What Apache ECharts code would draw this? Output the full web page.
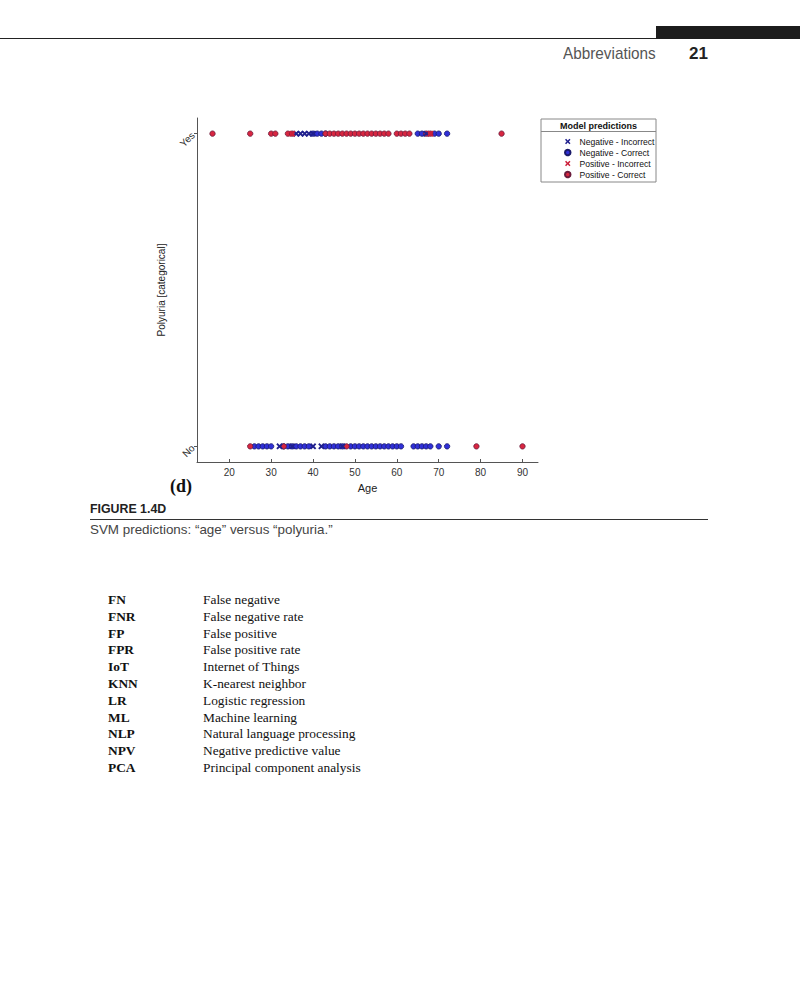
<!DOCTYPE html>
<html><head><meta charset="utf-8">
<script src="https://cdn.jsdelivr.net/npm/echarts@6/dist/echarts.min.js"></script>
<style>
body{margin:0;width:800px;height:987px;background:#fff;position:relative;overflow:hidden;font-family:'Liberation Sans',Arial,sans-serif;}
#chart{position:absolute;left:0;top:0;width:800px;height:520px;}
.abs{position:absolute;white-space:nowrap;}
#thin{position:absolute;left:0;top:38px;width:656px;height:1px;background:#222;}
#bar{position:absolute;left:656px;top:26px;width:144px;height:13px;background:#1c1c1c;}
#hdr{left:563px;top:44px;font-family:'Liberation Sans',Arial;font-size:17px;color:#555;transform:scaleX(0.9);transform-origin:left top;}
#pg{left:689px;top:44px;font-family:'Liberation Sans',Arial;font-weight:bold;font-size:17px;color:#222;}
#dlab{left:170px;top:476px;font-family:'Liberation Serif','Times New Roman',serif;font-weight:bold;font-size:18px;color:#111;}
#fig{left:90px;top:501px;font-family:'Liberation Sans',Arial;font-weight:bold;font-size:13px;color:#222;transform:scaleX(0.95);transform-origin:left top;}
#rule{position:absolute;left:90px;top:519px;width:618px;height:1px;background:#333;}
#cap{left:90px;top:522px;font-family:'Liberation Sans',Arial;font-size:13.4px;color:#444;}
#abbr{position:absolute;left:108px;top:592px;font-family:'Liberation Serif','Times New Roman',serif;font-size:13.4px;color:#111;line-height:16.8px;}
#abbr .r{display:flex;}
#abbr .k{width:95px;font-weight:bold;}
</style></head><body>
<div id="thin"></div><div id="bar"></div>
<div class="abs" id="hdr">Abbreviations</div>
<div class="abs" id="pg">21</div>
<div id="chart"></div>
<div class="abs" id="dlab">(d)</div>
<div class="abs" id="fig">FIGURE 1.4D</div>
<div id="rule"></div>
<div class="abs" id="cap">SVM predictions: “age” versus “polyuria.”</div>
<div id="abbr"></div>
<script>
// ---- data ----
const yCategories = ['No', 'Yes'];
const xTicks = [20, 30, 40, 50, 60, 70, 80, 90];
const seriesNames = ['Negative - Incorrect', 'Negative - Correct', 'Positive - Incorrect', 'Positive - Correct'];

// Polyuria = Yes row
const negIncorrectYes = [36, 37, 38, 39, 40, 67];
const negCorrectYes = [40, 41, 42, 43, 65, 66, 69, 70, 72];
const posIncorrectYes = [35, 68];
const posCorrectYes = [16, 25, 30, 31, 34, 35, 43, 44, 45, 46, 47, 48, 49, 50, 51, 52, 53, 54, 55, 56, 57, 58, 60, 61, 62, 63, 67, 68, 85];

// Polyuria = No row
const negIncorrectNo = [32, 35, 40, 42, 47];
const negCorrectNo = [26, 27, 28, 29, 30, 33, 34, 35, 36, 37, 38, 39, 43, 44, 45, 46, 47, 49, 50, 51, 52, 53, 54, 55, 56, 57, 58, 59, 60, 61, 64, 65, 66, 67, 68, 70, 72];
const posIncorrectNo = [];
const posCorrectNo = [25, 33, 48, 79, 90];

const abbrKeys = ['FN', 'FNR', 'FP', 'FPR', 'IoT', 'KNN', 'LR', 'ML', 'NLP', 'NPV', 'PCA'];
const abbrVals = ['False negative', 'False negative rate', 'False positive', 'False positive rate', 'Internet of Things', 'K-nearest neighbor', 'Logistic regression', 'Machine learning', 'Natural language processing', 'Negative predictive value', 'Principal component analysis'];

// ---- abbreviations list ----
document.getElementById('abbr').innerHTML = abbrKeys.map((k, i) =>
  '<div class="r"><span class="k">' + k + '</span><span>' + abbrVals[i] + '</span></div>').join('');

// ---- chart ----
const cross = 'path://M0,2L2,0L5,3L8,0L10,2L7,5L10,8L8,10L5,7L2,10L0,8L3,5Z';
function pts(yes, no) {
  return yes.map(a => [a, 1]).concat(no.map(a => [a, 0]));
}
const styles = [
  { symbol: cross, size: 6.5, color: '#20208e', border: '#20208e' },
  { symbol: 'circle', size: 5.4, color: '#3030d8', border: '#1a1a6a' },
  { symbol: cross, size: 6.5, color: '#cc1f3a', border: '#cc1f3a' },
  { symbol: 'circle', size: 5.4, color: '#d82640', border: '#6a1c3c' }
];
const dataSets = [
  pts(negIncorrectYes, negIncorrectNo),
  pts(negCorrectYes, negCorrectNo),
  pts(posIncorrectYes, posIncorrectNo),
  pts(posCorrectYes, posCorrectNo)
];
const drawOrder = [1, 3, 0, 2];

const chart = echarts.init(document.getElementById('chart'), null, { renderer: 'svg' });
chart.setOption({
  animation: false,
  grid: { left: 197, top: 118, width: 341, height: 344, containLabel: false },
  xAxis: {
    type: 'value', min: 12.3, max: 93.7,
    name: 'Age', nameLocation: 'middle', nameGap: 20,
    nameTextStyle: { fontFamily: 'Liberation Sans', fontSize: 11, color: '#222' },
    axisLine: { onZero: false, lineStyle: { color: '#555', width: 1 } },
    axisTick: { show: true, inside: true, length: 3, customValues: xTicks, lineStyle: { color: '#555' } },
    axisLabel: { customValues: xTicks, fontFamily: 'Liberation Sans', fontSize: 10, color: '#333', margin: 5 },
    splitLine: { show: false }
  },
  yAxis: {
    type: 'value', min: -0.05, max: 1.05,
    name: 'Polyuria [categorical]', nameLocation: 'middle', nameGap: 31, nameRotate: 90,
    nameTextStyle: { fontFamily: 'Liberation Sans', fontSize: 10, color: '#222' },
    axisLine: { show: true, onZero: false, lineStyle: { color: '#555', width: 1 } },
    axisTick: { show: true, inside: false, length: 3, customValues: [0, 1], lineStyle: { color: '#555' } },
    axisLabel: { customValues: [0, 1], rotate: 45, margin: 4, fontFamily: 'Liberation Sans', fontSize: 10, color: '#333',
      formatter: v => yCategories[Math.round(v)] },
    splitLine: { show: false }
  },
  legend: {
    orient: 'vertical', left: 559, top: 131, itemWidth: 5.5, itemHeight: 5.5, itemGap: 0,
    data: seriesNames,
    textStyle: { fontFamily: 'Liberation Sans', fontSize: 8.6, lineHeight: 11, color: '#111', padding: [0, 0, 0, 4] },
    selectedMode: false
  },
  graphic: [
    { type: 'rect', shape: { x: 541, y: 119, width: 115, height: 63 }, style: { fill: '#fff', stroke: '#888', lineWidth: 1 }, z: -1 },
    { type: 'line', shape: { x1: 541, y1: 131.5, x2: 656, y2: 131.5 }, style: { stroke: '#888', lineWidth: 1 } },
    { type: 'text', x: 598.5, y: 126, style: { text: 'Model predictions', fontFamily: 'Liberation Sans', fontWeight: 'bold', fontSize: 9, fill: '#111', align: 'center', verticalAlign: 'middle' } }
  ],
  series: drawOrder.map(i => ({
    name: seriesNames[i], type: 'scatter', data: dataSets[i],
    symbol: styles[i].symbol, symbolSize: styles[i].size,
    itemStyle: { color: styles[i].color, borderColor: styles[i].border, borderWidth: styles[i].symbol === 'circle' ? 0.8 : 0, opacity: 1 },
    z: 2 + drawOrder.indexOf(i)
  }))
});
</script>
</body></html>
